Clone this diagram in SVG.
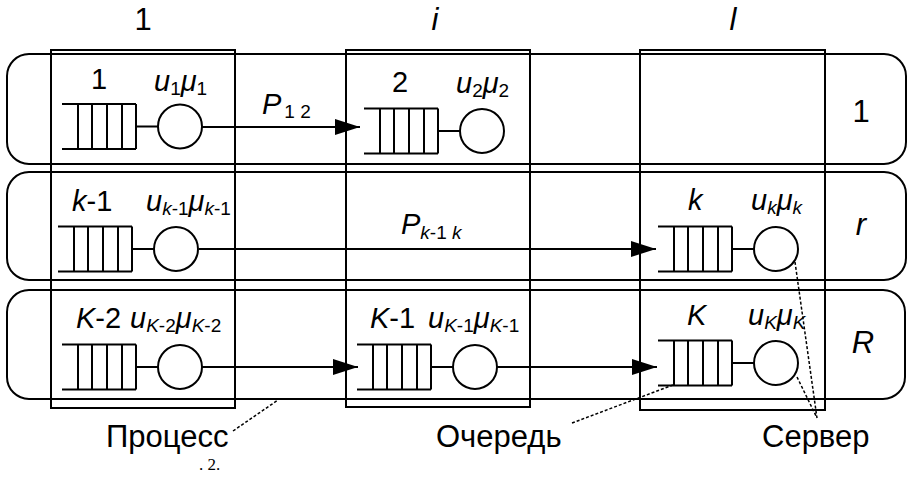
<svg xmlns="http://www.w3.org/2000/svg" width="909" height="484" viewBox="0 0 909 484">
<style>
.box{fill:none;stroke:#000;stroke-width:2}
.q{fill:none;stroke:#000;stroke-width:2}
.srv{fill:#fff;stroke:#000;stroke-width:2}
.con{fill:none;stroke:#000;stroke-width:2}
.lead{fill:none;stroke:#000;stroke-width:1.5;stroke-dasharray:3 2}
text{font-family:"Liberation Sans",Arial,sans-serif;fill:#000}
.lbl{font-size:29px}
.big{font-size:31px}
.it{font-style:italic}
.sub{font-size:19px}
.cap{font-family:"Liberation Serif","Times New Roman",serif;font-size:17px}
</style>
<defs>
<marker id="ah" markerWidth="25" markerHeight="16" refX="25" refY="8" orient="auto" markerUnits="userSpaceOnUse">
<path d="M0,0 L25,8 L0,16 Z" fill="#000"/>
</marker>
<g id="queue">
<path class="q" d="M0,0 H74 M0,45 H74 M16,0 V45 M30,0 V45 M45,0 V45 M60,0 V45 M74,0 V45 M74,22.5 H96"/>
<circle class="srv" cx="118" cy="22.5" r="22"/>
</g>
</defs>

<g id="frame">
<rect id="process-1" class="box" x="7" y="54" width="899" height="110" rx="22"/>
<rect id="process-r" class="box" x="7" y="172" width="899" height="108" rx="22"/>
<rect id="process-R" class="box" x="7" y="290" width="898" height="109" rx="22"/>
<rect id="column-1" class="box" x="51" y="50" width="184" height="358"/>
<rect id="column-i" class="box" x="346" y="50" width="184" height="357"/>
<rect id="column-l" class="box" x="640" y="50" width="185" height="360"/>
</g>

<g id="headers">
<text class="big" x="143" y="30" text-anchor="middle">1</text>
<text class="big it" x="435" y="30" text-anchor="middle">i</text>
<text class="big it" x="733" y="30" text-anchor="middle">l</text>
<text class="big" x="861" y="122" text-anchor="middle">1</text>
<text class="big it" x="861" y="235" text-anchor="middle">r</text>
<text class="big it" x="863" y="353" text-anchor="middle">R</text>
</g>

<g id="connectors">
<line class="con" x1="202" y1="127" x2="360" y2="127" marker-end="url(#ah)"/>
<line class="con" x1="199" y1="249" x2="656" y2="249" marker-end="url(#ah)"/>
<line class="con" x1="202" y1="367" x2="358" y2="367" marker-end="url(#ah)"/>
<line class="con" x1="497" y1="367" x2="657" y2="367" marker-end="url(#ah)"/>
<text class="lbl" x="262" y="114"><tspan class="it">P</tspan><tspan class="sub" dx="3" dy="4">1 2</tspan></text>
<text class="lbl" x="401" y="234"><tspan class="it">P</tspan><tspan class="sub" dy="5"><tspan class="it">k</tspan>-1 <tspan class="it">k</tspan></tspan></text>
</g>

<g id="node-1">
<use href="#queue" x="62" y="104"/>
<text class="lbl" x="99" y="89" text-anchor="middle">1</text>
<text class="lbl" x="154" y="91"><tspan class="it">u</tspan><tspan class="sub" dy="4">1</tspan><tspan class="it" dy="-4">μ</tspan><tspan class="sub" dy="4">1</tspan></text>
</g>
<g id="node-2">
<use href="#queue" x="364" y="108.5"/>
<text class="lbl" x="400" y="92" text-anchor="middle">2</text>
<text class="lbl" x="456" y="93"><tspan class="it">u</tspan><tspan class="sub" dy="4">2</tspan><tspan class="it" dy="-4">μ</tspan><tspan class="sub" dy="4">2</tspan></text>
</g>
<g id="node-k-1">
<use href="#queue" x="58" y="226.5"/>
<text class="lbl" x="72" y="211"><tspan class="it">k</tspan>-1</text>
<text class="lbl" x="146" y="211"><tspan class="it">u</tspan><tspan class="sub" dy="4"><tspan class="it">k</tspan>-1</tspan><tspan class="it" dy="-4">μ</tspan><tspan class="sub" dy="4"><tspan class="it">k</tspan>-1</tspan></text>
</g>
<g id="node-k">
<use href="#queue" x="658" y="226.5"/>
<text class="lbl it" x="688" y="210">k</text>
<text class="lbl" x="751" y="210"><tspan class="it">u</tspan><tspan class="sub it" dy="4">k</tspan><tspan class="it" dy="-4">μ</tspan><tspan class="sub it" dy="4">k</tspan></text>
</g>
<g id="node-K-2">
<use href="#queue" x="62" y="344.5"/>
<text class="lbl" x="76" y="328"><tspan class="it">K</tspan>-2</text>
<text class="lbl" x="130" y="328"><tspan class="it">u</tspan><tspan class="sub" dy="4"><tspan class="it">K</tspan>-2</tspan><tspan class="it" dy="-4">μ</tspan><tspan class="sub" dy="4"><tspan class="it">K</tspan>-2</tspan></text>
</g>
<g id="node-K-1">
<use href="#queue" x="357" y="344.5"/>
<text class="lbl" x="370" y="328"><tspan class="it">K</tspan>-1</text>
<text class="lbl" x="428" y="328"><tspan class="it">u</tspan><tspan class="sub" dy="4"><tspan class="it">K</tspan>-1</tspan><tspan class="it" dy="-4">μ</tspan><tspan class="sub" dy="4"><tspan class="it">K</tspan>-1</tspan></text>
</g>
<g id="node-K">
<use href="#queue" x="658" y="340.5"/>
<text class="lbl it" x="687" y="325">K</text>
<text class="lbl" x="748" y="325"><tspan class="it">u</tspan><tspan class="sub it" dy="4">K</tspan><tspan class="it" dy="-4">μ</tspan><tspan class="sub it" dy="4">K</tspan></text>
</g>

<g id="legend">
<path class="lead" d="M233,431 L278,400"/>
<path class="lead" d="M572,423 L673,385"/>
<path class="lead" d="M795,262 L817,418 M797,377 L817,418"/>
<text class="big" x="106" y="447">Процесс</text>
<text class="big" x="436" y="447">Очередь</text>
<text class="big" x="762" y="447">Сервер</text>
<text class="cap" x="199" y="470">. 2.</text>
</g>
</svg>
